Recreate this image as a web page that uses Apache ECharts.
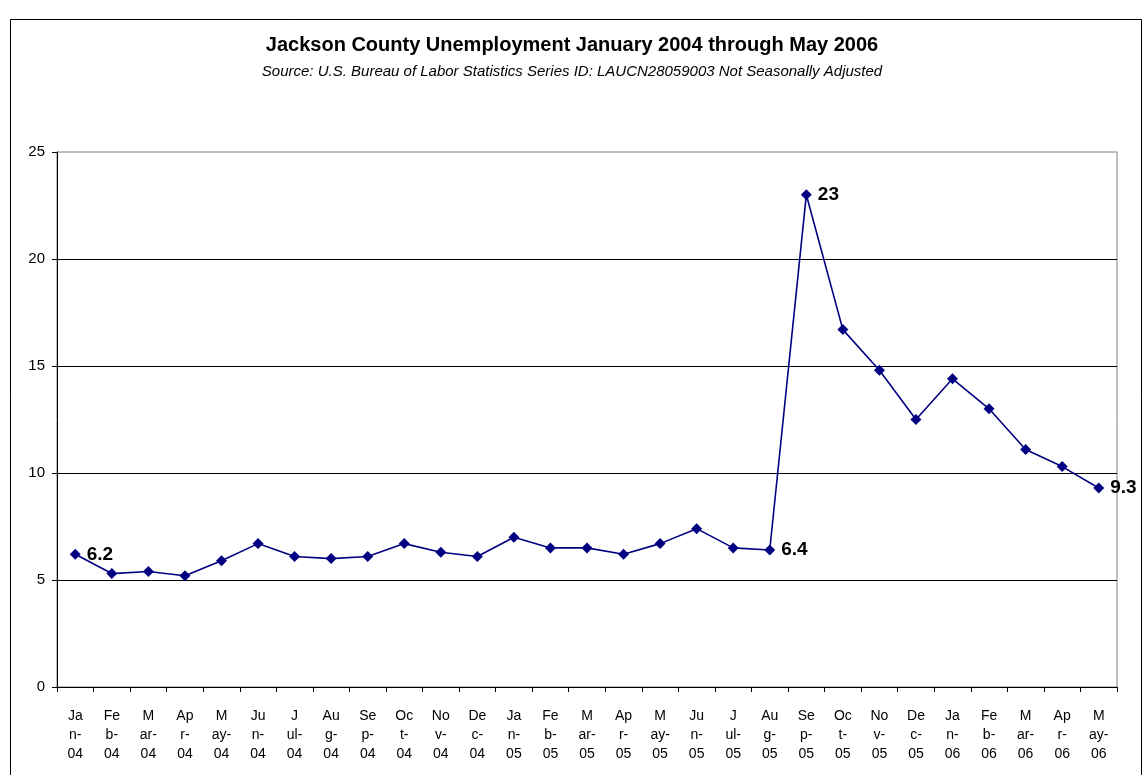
<!DOCTYPE html>
<html>
<head>
<meta charset="utf-8">
<script src="https://cdn.jsdelivr.net/npm/echarts@6/dist/echarts.min.js"></script>
<style>
  html, body { margin: 0; padding: 0; background: #ffffff; }
  #chart { width: 1144px; height: 775px; }
</style>
</head>
<body>
<div id="chart"></div>
<script>
// Monthly unemployment rate, Jackson County
const categories = [
  'Jan-04','Feb-04','Mar-04','Apr-04','May-04','Jun-04','Jul-04','Aug-04','Sep-04','Oct-04','Nov-04','Dec-04',
  'Jan-05','Feb-05','Mar-05','Apr-05','May-05','Jun-05','Jul-05','Aug-05','Sep-05','Oct-05','Nov-05','Dec-05',
  'Jan-06','Feb-06','Mar-06','Apr-06','May-06'
];
// Category labels as wrapped on the axis
const tickLabels = [
  'Ja\nn-\n04','Fe\nb-\n04','M\nar-\n04','Ap\nr-\n04','M\nay-\n04','Ju\nn-\n04','J\nul-\n04','Au\ng-\n04','Se\np-\n04','Oc\nt-\n04','No\nv-\n04','De\nc-\n04',
  'Ja\nn-\n05','Fe\nb-\n05','M\nar-\n05','Ap\nr-\n05','M\nay-\n05','Ju\nn-\n05','J\nul-\n05','Au\ng-\n05','Se\np-\n05','Oc\nt-\n05','No\nv-\n05','De\nc-\n05',
  'Ja\nn-\n06','Fe\nb-\n06','M\nar-\n06','Ap\nr-\n06','M\nay-\n06'
];
const rates = [
  6.2, 5.3, 5.4, 5.2, 5.9, 6.7, 6.1, 6.0, 6.1, 6.7, 6.3, 6.1,
  7.0, 6.5, 6.5, 6.2, 6.7, 7.4, 6.5, 6.4, 23, 16.7, 14.8, 12.5,
  14.4, 13.0, 11.1, 10.3, 9.3
];
// Months whose value is printed next to the marker
const labeledMonths = ['Jan-04', 'Aug-05', 'Sep-05', 'May-06'];
const yTicks = [0, 5, 10, 15, 20, 25];

const FONT = '"Liberation Sans", Arial, sans-serif';
const chart = echarts.init(document.getElementById('chart'), null, { renderer: 'canvas' });

const seriesData = rates.map((v, i) => ({
  value: v,
  label: { show: labeledMonths.includes(categories[i]) }
}));

chart.setOption({
  backgroundColor: '#ffffff',
  animation: false,
  title: {
    text: 'Jackson County Unemployment January 2004 through May 2006',
    subtext: 'Source: U.S. Bureau of Labor Statistics Series ID: LAUCN28059003 Not Seasonally Adjusted',
    left: 'center',
    top: 30,
    itemGap: 9,
    textStyle: { fontFamily: FONT, fontSize: 20, fontWeight: 'bold', color: '#000000' },
    subtextStyle: { fontFamily: FONT, fontSize: 15, fontStyle: 'italic', color: '#000000' }
  },
  graphic: [{
    type: 'rect',
    shape: { x: 10.5, y: 19.5, width: 1131, height: 800 },
    style: { fill: null, stroke: '#000000', lineWidth: 1 },
    silent: true
  }],
  grid: {
    left: 57, right: 27, top: 152, bottom: 88,
    containLabel: false,
    outerBoundsMode: 'none',
    show: true,
    borderColor: '#808080',
    borderWidth: 1,
    backgroundColor: 'transparent'
  },
  xAxis: {
    type: 'category',
    data: categories,
    boundaryGap: true,
    axisLine: { lineStyle: { color: '#000000', width: 1 } },
    axisTick: { show: true, alignWithLabel: false, length: 5, inside: false, lineStyle: { color: '#000000' } },
    axisLabel: {
      interval: 0,
      margin: 20,
      fontFamily: FONT,
      fontSize: 14,
      lineHeight: 19,
      color: '#000000',
      formatter: (val, idx) => tickLabels[idx]
    },
    splitLine: { show: false }
  },
  yAxis: {
    type: 'value',
    min: yTicks[0],
    max: yTicks[yTicks.length - 1],
    interval: 5,
    axisLine: { show: true, lineStyle: { color: '#000000', width: 1 } },
    axisTick: { show: true, length: 5, inside: false, lineStyle: { color: '#000000' } },
    axisLabel: { margin: 12, fontFamily: FONT, fontSize: 15, color: '#000000' },
    splitLine: {
      show: true,
      lineStyle: { color: ['#000000', '#000000', '#000000', '#000000', '#000000', 'transparent'], width: 1 }
    }
  },
  series: [{
    type: 'line',
    data: seriesData,
    symbol: 'diamond',
    symbolSize: 11,
    lineStyle: { color: '#000080', width: 1.6 },
    itemStyle: { color: '#000080' },
    label: {
      position: 'right',
      distance: 6,
      fontFamily: FONT,
      fontSize: 19,
      fontWeight: 'bold',
      color: '#000000',
      formatter: p => String(p.value)
    },
    z: 5
  }]
});
</script>
</body>
</html>
